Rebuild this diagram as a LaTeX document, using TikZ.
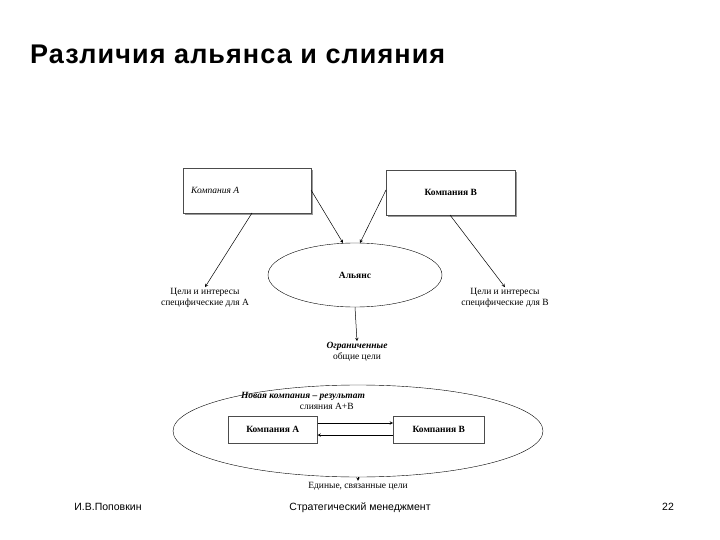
\documentclass[tikz,border=0pt]{standalone}
\usepackage{fontspec}
\setmainfont{Liberation Serif}
\newfontfamily\arial{Liberation Sans}
\newfontfamily\arialsp[LetterSpace=4]{Liberation Sans}
\usetikzlibrary{shapes.geometric}
\begin{document}
\begin{tikzpicture}[x=1pt,y=-1pt,>=stealth,
  lbl/.style={font=\fontsize{9.5}{11}\selectfont,align=center,inner sep=1pt},
  bx/.style={draw=black!70,fill=white,line width=0.5pt},
  arr/.style={->,line width=0.5pt}]
\useasboundingbox (0,0) rectangle (720,540);
\node[anchor=base west,inner sep=0pt,font=\arialsp\bfseries\fontsize{27}{30}\selectfont] (title) at (30,64) {Различия альянса и слияния};
% shadowed boxes
\fill[black!40] (185,170) rectangle (313,215);
\node[bx,minimum width=128pt,minimum height=45pt,anchor=north west] (ca) at (183,168) {};
\node[lbl,anchor=west] (cat) at (190,190) {\itshape Компания А};
\fill[black!40] (388,172) rectangle (517,217);
\node[bx,minimum width=129pt,minimum height=45pt,anchor=north west,font=\fontsize{9.5}{11}\selectfont\bfseries] (cb) at (386,170) {Компания В};
\node[draw,ellipse,minimum width=174pt,minimum height=64pt,inner sep=0pt,lbl,font=\fontsize{9.5}{11}\selectfont\bfseries] (al) at (355,275) {Альянс};
\coordinate (ala) at (343,243);
\coordinate (alb) at (360,243);
\draw[arr] (311,190) -- (ala);
\draw[arr] (386,190) -- (alb);
\node[lbl] (ga) at (205,298) {Цели и интересы\\специфические для А};
\node[lbl] (gb) at (505,298) {Цели и интересы\\специфические для В};
\draw[arr] (252,213) -- (ga.north);
\draw[arr] (450,215) -- (gb.north);
\node[lbl] (og) at (357,352) {\textbf{\textit{Ограниченные}}\\общие цели};
\draw[arr] (al.south) -- (og.north);
\node[draw,ellipse,minimum width=370pt,minimum height=92pt,inner sep=0pt] (big) at (358,431) {};
\node[lbl] (nk) at (303,401) {\textbf{\textit{Новая компания – результат}}\\\hspace*{5em}слияния А+В};
\node[bx,minimum width=89pt,minimum height=27pt,anchor=north west,font=\fontsize{9.5}{11}\selectfont\bfseries] (ia) at (228,416) {Компания А};
\node[bx,minimum width=91pt,minimum height=27pt,anchor=north west,font=\fontsize{9.5}{11}\selectfont\bfseries] (ib) at (393,416) {Компания В};
\draw[arr] (ia.east |- 0,423) -- (ib.west |- 0,423);
\draw[arr] (ib.west |- 0,435) -- (ia.east |- 0,435);
\node[lbl] (ed) at (358,486) {Единые, связанные цели};
\draw[arr] (big.south) -- (ed.north);
\node[anchor=base,font=\arial\fontsize{10.5}{12}\selectfont] (f1) at (108,510) {И.В.Поповкин};
\node[anchor=base,font=\arial\fontsize{10.5}{12}\selectfont] (f2) at (360,510) {Стратегический менеджмент};
\node[anchor=base,font=\arial\fontsize{10.5}{12}\selectfont] (f3) at (668,510) {22};
\end{tikzpicture}
\end{document}
